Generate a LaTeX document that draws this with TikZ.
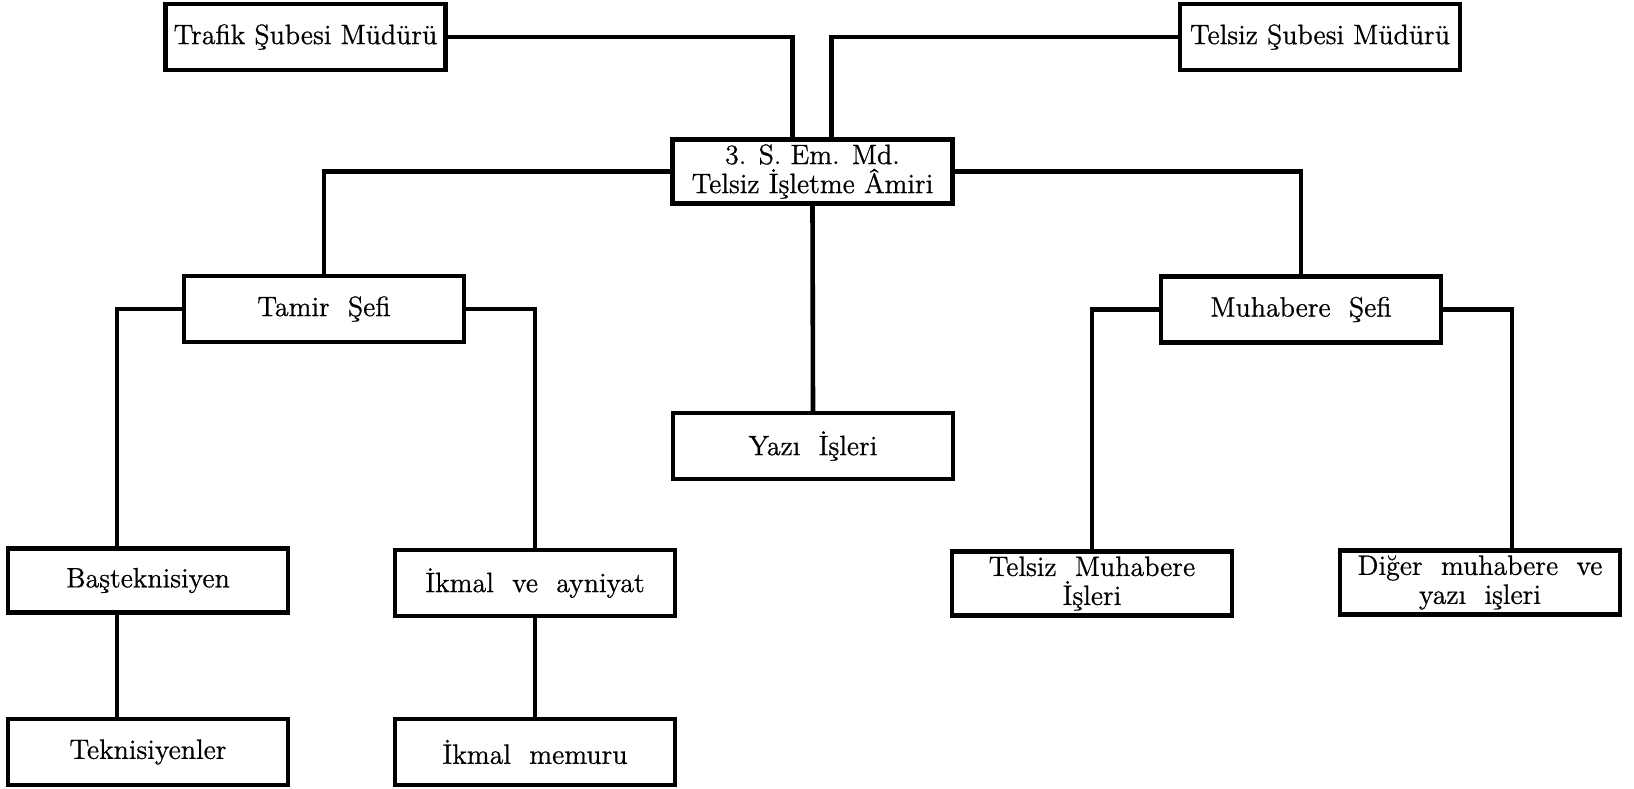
\documentclass[tikz,border=0pt]{standalone}
\usepackage{fontspec}
\newfontfamily\chartfont{Latin Modern Roman}[FakeBold=0.8]
\usepackage{tikz}
\usetikzlibrary{positioning, calc}

\begin{document}
\begin{tikzpicture}[x=0.5pt, y=-0.5pt,
  unit/.style={draw, line width=2.1pt, minimum width=140pt, minimum height=33pt,
    align=center, inner sep=2pt, font=\chartfont\fontsize{14}{14.5}\selectfont},
  link/.style={line width=2.3pt}]
\useasboundingbox (0,0) rectangle (1634,788);
% Top level
\node[unit] (trafik) at (305.5,37) {Trafik Şubesi Müdürü};
\node[unit] (telsizsb) at (1320,37) {Telsiz Şubesi Müdürü};
\node[unit, minimum height=32pt] (amir) at (812.5,171.5) {3. S. Em. Md.\\Telsiz İşletme Âmiri};
% Second level
\node[unit] (tamir) at (324,309) {Tamir \ Şefi};
\node[unit] (muhabere) at (1301,309.5) {Muhabere \ Şefi};
\node[unit] (yazi) at (813,446) {Yazı \ İşleri};
% Third level
\node[unit, minimum height=32pt] (bastek) at (148,580.5) {Başteknisiyen};
\node[unit] (ikmal) at (535,583) {İkmal \ ve \ ayniyat};
\node[unit, minimum height=32pt] (telmuh) at (1092,583.5) {Telsiz \ Muhabere\\İşleri};
\node[unit, minimum height=32pt] (diger) at (1480,582.5) {Diğer \ muhabere \ ve\\yazı \ işleri};
% Bottom level
\node[unit] (teknik) at (148,752) {Teknisiyenler};
\node[unit] (memur) at (535,752) {İkmal \ memuru};
% Connectors
\draw[link] (trafik.east) -| ([xshift=-10pt]amir.north);
\draw[link] (telsizsb.west) -| ([xshift=9.5pt]amir.north);
\draw[link] (amir.west) -| (tamir.north);
\draw[link] (amir.east) -| (muhabere.north);
\draw[link] (amir.south) -- (yazi.north);
\draw[link] (tamir.west) -| ([xshift=-15.5pt]bastek.north);
\draw[link] (tamir.east) -| (ikmal.north);
\draw[link] (muhabere.west) -| (telmuh.north);
\draw[link] (muhabere.east) -| ([xshift=16pt]diger.north);
\draw[link] ([xshift=-15.5pt]bastek.south) -- ([xshift=-15.5pt]teknik.north);
\draw[link] (ikmal.south) -- (memur.north);
\end{tikzpicture}
\end{document}
